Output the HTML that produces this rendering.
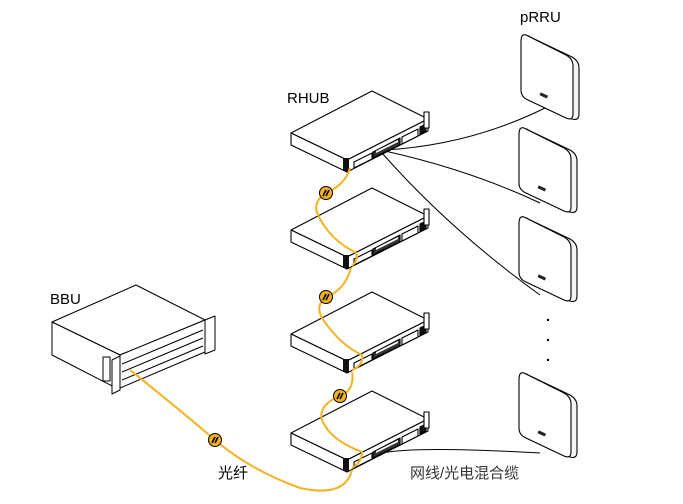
<!DOCTYPE html>
<html><head><meta charset="utf-8"><style>
html,body{margin:0;padding:0;background:#fff;}
svg{display:block}
text{font-family:"Liberation Sans","Noto Sans CJK SC",sans-serif;}
</style></head><body>
<svg width="683" height="504" viewBox="0 0 683 504" xmlns="http://www.w3.org/2000/svg">
<defs>
<g id="rhub" stroke="#000" stroke-width="1.1" fill="#fff" stroke-linejoin="round">
  <polygon points="291,133 372,91 428,119 347,160"/>
  <polygon points="291,133 347,160 347,172 291,145"/>
  <polygon points="347,160 428,119 428,131 347,172"/>
  <rect x="343" y="158" width="6" height="13" fill="#111" stroke="none"/>
  <polygon points="354,162 372,153 372,159 354,168" fill="#fff"/>
  <polygon points="373,152 400,138 400,145 373,158" fill="#333"/>
  <polygon points="376,151 398,140 398,142 376,153" fill="#fff" stroke="none"/>
  <polygon points="402,137 418,129 418,136 402,144" fill="#fff"/>
  <polygon points="420,127 426,124 426,131 420,134" fill="#111"/>
  <rect x="424" y="112" width="5" height="16" fill="#fff"/>
</g>
<g id="prru" stroke="#000" stroke-width="1.1" fill="#fff" stroke-linejoin="round">
  <path d="M528,36 L572,57 Q579,61 579,68 L579,114 Q579,121 572,119 L537,103 Q530,100 530,93 L530,42 Q530,35 528,36 Z" fill="#f4f4f4"/>
  <path d="M526,35 L566,55 Q573,59 573,66 L573,114 Q573,121 566,118 L528,100 Q521,97 521,90 L521,42 Q521,33 526,35 Z"/>
  <rect x="540" y="94" width="8" height="3" fill="#222" stroke="none" transform="rotate(25 544 95)"/>
</g>
<g id="fc">
  <circle r="6.5" fill="#f5b21e" stroke="#000"/>
  <path d="M-3,3 L0,-3 M0,3 L3,-3" stroke="#000" stroke-width="1.6"/>
</g>
</defs>

<g fill="none" stroke="#000" stroke-width="1">
  <path d="M385,150 Q470,145 545,108"/>
  <path d="M385,151 Q470,170 540,203"/>
  <path d="M382,153 Q450,230 540,295"/>
  <path d="M375,455 Q400,445 540,453"/>
</g>

<use href="#rhub"/>
<use href="#rhub" transform="translate(0,97)"/>
<use href="#rhub" transform="translate(0,201)"/>
<use href="#rhub" transform="translate(0,300)"/>

<use href="#prru"/>
<use href="#prru" transform="translate(-2,93)"/>
<use href="#prru" transform="translate(-2,182)"/>
<use href="#prru" transform="translate(-2,338)"/>

<g fill="#000"><circle cx="548" cy="320" r="1.2"/><circle cx="548" cy="340" r="1.2"/><circle cx="548" cy="360" r="1.2"/></g>

<g stroke="#000" stroke-width="1" fill="#fff" stroke-linejoin="round">
  <polygon points="52,322 136,285 205,320 120,355"/>
  <polygon points="52,322 120,355 120,390 52,355"/>
  <polygon points="120,355 205,320 205,352 120,388"/>
  <line x1="122" y1="364" x2="203" y2="330"/><line x1="122" y1="372" x2="203" y2="338"/><line x1="122" y1="380" x2="203" y2="346"/>
  <rect x="103" y="357" width="7" height="24"/>
  <polygon points="112,360 120,356 120,390 112,394" fill="#fff"/>
  <polygon points="205,320 215,316 215,350 205,354" fill="#fff"/>
</g>

<g fill="none" stroke="#f5b21e" stroke-width="2">
  <path d="M350,168 Q345,185 326,193 Q312,202 318,215 Q330,240 355,252 Q360,258 352,266"/>
  <path d="M351,268 Q345,290 326,297 Q315,305 322,318 Q340,345 362,355 Q364,365 352,370"/>
  <path d="M352,372 Q355,390 340,396 Q318,405 322,420 Q330,440 362,452 Q362,462 352,468"/>
  <path d="M130,370 Q180,410 215,440 Q250,470 300,488 Q345,498 352,470"/>
</g>
<use href="#fc" x="326" y="193"/>
<use href="#fc" x="326" y="297"/>
<use href="#fc" x="340" y="396"/>
<use href="#fc" x="215" y="440"/>

<g font-size="15" fill="#000">
  <text x="520" y="22">pRRU</text>
  <text x="287" y="103">RHUB</text>
  <text x="50" y="304">BBU</text>
  <text x="218" y="478">光纤</text>
  <text x="410" y="478" fill="#333">网线/光电混合缆</text>
</g>
</svg>
</body></html>
